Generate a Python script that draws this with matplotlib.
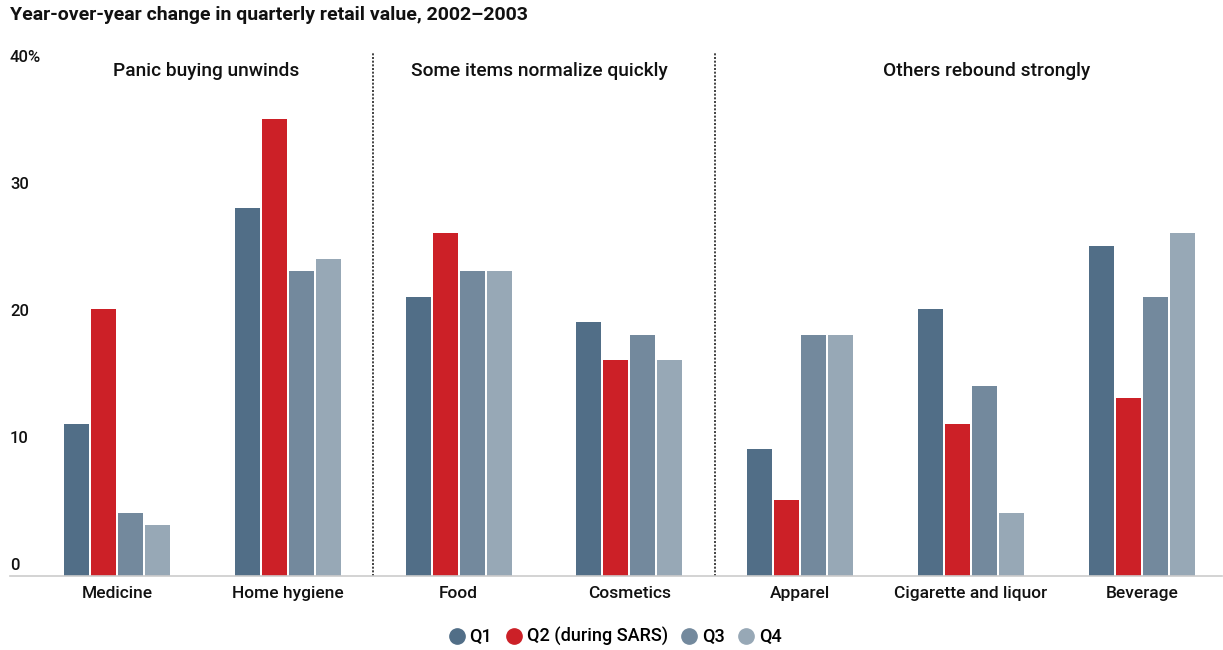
import numpy as np
import matplotlib.pyplot as plt
from matplotlib.lines import Line2D

plt.rcParams['font.family'] = ['Roboto', 'DejaVu Sans']

categories = ['Medicine', 'Home hygiene', 'Food', 'Cosmetics',
              'Apparel', 'Cigarette and liquor', 'Beverage']
q1 = [12, 29, 22, 20, 10, 21, 26]
q2 = [21, 36, 27, 17, 6, 12, 14]
q3 = [5, 24, 24, 19, 19, 15, 22]
q4 = [4, 25, 24, 17, 19, 5, 27]
series_names = ['Q1', 'Q2 (during SARS)', 'Q3', 'Q4']
colors = ['#516e87', '#cc2027', '#73899d', '#97a8b6']
yticks = [0, 10, 20, 30, 40]
ytick_labels = ['0', '10', '20', '30', '40%']
sections = ['Panic buying unwinds', 'Some items normalize quickly', 'Others rebound strongly']
section_x = [0.52, 2.47, 5.09]
dividers = [1.5, 3.5]

fig = plt.figure(figsize=(12.23, 6.5), dpi=100)
ax = fig.add_axes([10 / 1223, 74 / 650, 1212 / 1223, 524 / 650])

x = np.arange(len(categories))
step = 0.158
width = 0.147
for i, (vals, c) in enumerate(zip([q1, q2, q3, q4], colors)):
    ax.bar(x + (i - 1.5) * step, vals, width=width, color=c, zorder=2)

ax.set_xlim(-0.627, 6.47)
ax.set_ylim(0, 41.26)

for d in dividers:
    ax.axvline(d, color='#222222', linestyle=(0, (1.2, 1.0)), linewidth=1.2, zorder=1)

for s, sx in zip(sections, section_x):
    ax.text(sx, 39.75, s, ha='center', va='center', fontsize=13.8,
            fontweight='medium', color='#111111')

for t, lab in zip(yticks, ytick_labels):
    ax.text(0, t + 0.85, lab, transform=ax.get_yaxis_transform(),
            ha='left', va='center', fontsize=12, fontweight='medium', color='#111111')

for side in ['top', 'right', 'left']:
    ax.spines[side].set_visible(False)
ax.spines['bottom'].set_color('#cccccc')
ax.spines['bottom'].set_linewidth(1.2)
ax.set_yticks([])
ax.set_xticks(x)
ax.set_xticklabels(categories, fontsize=12.5, fontweight='medium', color='#111111')
ax.tick_params(axis='x', length=0, pad=7)

fig.text(10 / 1223, 1 - 15 / 650, 'Year-over-year change in quarterly retail value, 2002\u20132003',
         ha='left', va='center', fontsize=14, fontweight='bold', color='#111111')

handles = [Line2D([], [], marker='o', linestyle='', markersize=11, color=c) for c in colors]
fig.legend(handles, series_names, loc='center', bbox_to_anchor=(614 / 1223, 1 - 637 / 650),
           ncol=4, frameon=False, handletextpad=0.1, columnspacing=0.6,
           handlelength=1.2, prop={'size': 13, 'weight': 'medium'})

fig.savefig('out.png', dpi=100)
